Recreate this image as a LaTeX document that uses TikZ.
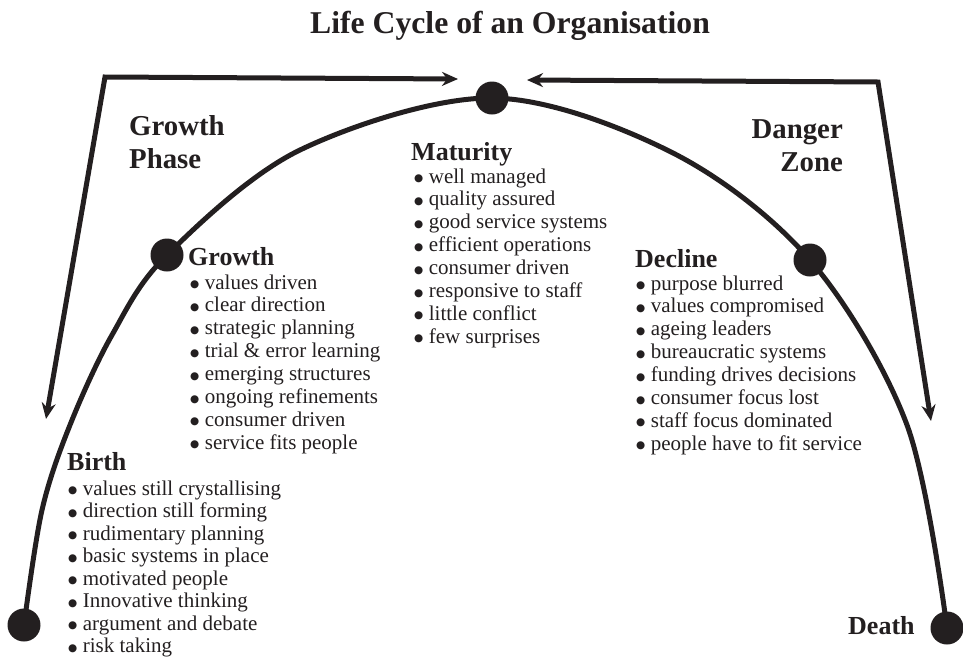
\documentclass[tikz,border=0pt]{standalone}
\usepackage{fontspec}
\setmainfont{Liberation Serif}
\newfontfamily\symfont{DejaVu Sans}
\usetikzlibrary{arrows.meta}
\definecolor{ink}{HTML}{231F20}
\newcommand\itemlist[1]{\begin{tabular}[t]{@{}l@{}}#1\end{tabular}}
\newcommand\bt{\raisebox{1.5pt}{\symfont\fontsize{10.5}{11}\selectfont ●}\hspace{5.5pt}}
\tikzset{
  dot/.style={circle, fill=ink, inner sep=0pt, minimum size=33pt},
  curveline/.style={draw=ink, line width=5pt},
  arrowline/.style={draw=ink, line width=5pt, line join=miter,
    {Stealth[length=16pt,width=14pt]}-{Stealth[length=16pt,width=14pt]}},
  head/.style={anchor=base west, inner sep=0pt, font=\fontsize{26}{30}\selectfont\bfseries, text=ink},
  phase/.style={inner sep=0pt, font=\fontsize{28.8}{33}\selectfont\bfseries, text=ink},
  list/.style={anchor=base west, inner sep=0pt, font=\fontsize{21}{22.9}\selectfont, text=ink},
  titlestyle/.style={anchor=base, inner sep=0pt, font=\fontsize{31.7}{36}\selectfont\bfseries, text=ink},
}
\begin{document}
\begin{tikzpicture}[x=1pt, y=-1pt]
\useasboundingbox (0,0) rectangle (963,659);

% title
\node[titlestyle] (title) at (510,33) {Life Cycle of an Organisation};

% stage dots
\node[dot] (birth) at (24,625) {};
\node[dot] (growthdot) at (167,255) {};
\node[dot] (top) at (492,98) {};
\node[dot] (declinedot) at (810,260) {};
\node[dot] (death) at (947,628) {};

% curve
\draw[curveline] plot[smooth, tension=0.55] coordinates {
  (birth.center) (42,510) (70,425) (112,335) (growthdot.center) (300,150)
  (top.center) (673,153) (declinedot.center) (907,425) (death.center)};

% arrows
\coordinate (lc) at (105,77);
\coordinate (lt) at (458,79);
\coordinate (lb) at (46,419);
\coordinate (rc) at (878,82);
\coordinate (rt) at (527,80);
\coordinate (rb) at (931,421);
\draw[arrowline] (lb) -- (lc) -- (lt);
\draw[arrowline] (rt) -- (rc) -- (rb);

% phase labels
\node[phase, anchor=base west] (gphase) at (129,135) {\begin{tabular}[t]{@{}l@{}}Growth\\Phase\end{tabular}};
\node[phase, anchor=base east] (dzone) at (843,138) {\begin{tabular}[t]{@{}r@{}}Danger\\Zone\end{tabular}};

% Birth
\node[head] (birthhead) at (67,470) {Birth};
\node[list, font=\fontsize{21}{22.5}\selectfont] (birthlist) at (68,495) {\itemlist{
\bt values still crystallising\\
\bt direction still forming\\
\bt rudimentary planning\\
\bt basic systems in place\\
\bt motivated people\\
\bt Innovative thinking\\
\bt argument and debate\\
\bt risk taking}};

% Growth
\node[head] (growthhead) at (188,265) {Growth};
\node[list] (growthlist) at (190,289) {\itemlist{
\bt values driven\\
\bt clear direction\\
\bt strategic planning\\
\bt trial \& error learning\\
\bt emerging structures\\
\bt ongoing refinements\\
\bt consumer driven\\
\bt service fits people}};

% Maturity
\node[head] (maturityhead) at (411,160) {Maturity};
\node[list] (maturitylist) at (414,183) {\itemlist{
\bt well managed\\
\bt quality assured\\
\bt good service systems\\
\bt efficient operations\\
\bt consumer driven\\
\bt responsive to staff\\
\bt little conflict\\
\bt few surprises}};

% Decline
\node[head] (declinehead) at (635,267) {Decline};
\node[list] (declinelist) at (636,290) {\itemlist{
\bt purpose blurred\\
\bt values compromised\\
\bt ageing leaders\\
\bt bureaucratic systems\\
\bt funding drives decisions\\
\bt consumer focus lost\\
\bt staff focus dominated\\
\bt people have to fit service}};

% Death
\node[head] (deathhead) at (848,634) {Death};
\end{tikzpicture}
\end{document}
